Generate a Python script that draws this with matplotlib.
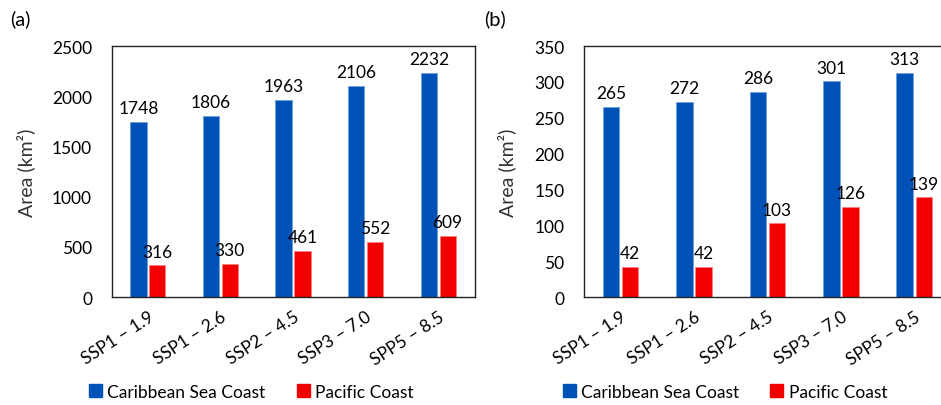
import numpy as np
import matplotlib
matplotlib.use("Agg")
import matplotlib.pyplot as plt
from matplotlib.patches import Patch

plt.rcParams['font.family'] = ['Lato', 'DejaVu Sans']

# scenarios and areas (km2)
scenarios = ["SSP1 – 1.9", "SSP1 – 2.6", "SSP2 – 4.5", "SSP3 – 7.0", "SPP5 – 8.5"]
carib_a = [1748, 1806, 1963, 2106, 2232]
pacif_a = [316, 330, 461, 552, 609]
carib_b = [265, 272, 286, 301, 313]
pacif_b = [42, 42, 103, 126, 139]

blue = "#0052B6"
red = "#F20000"
fs = 12.5

fig = plt.figure(figsize=(9.41, 4.06), dpi=100)

def panel(rect, carib, pacif, ymax, step, tag, tag_x, lab_x, leg_x):
    ax = fig.add_axes(rect)
    x = np.arange(len(scenarios))
    w = 0.225
    b1 = ax.bar(x - 0.13, carib, w, color=blue, edgecolor="#6f9fe0", linewidth=0.6)
    b2 = ax.bar(x + 0.13, pacif, w, color=red, edgecolor="#ff8080", linewidth=0.6)
    for bars in (b1, b2):
        ax.bar_label(bars, padding=4, fontsize=fs)
    ax.set_xlim(-0.5, len(scenarios) - 0.5)
    ax.set_ylim(0, ymax)
    ax.set_yticks(np.arange(0, ymax + 1, step))
    ax.set_xticks(x)
    ax.set_xticklabels(scenarios, rotation=33, ha="right", rotation_mode="anchor",
                       fontsize=fs)
    ax.tick_params(length=0, labelsize=fs)
    ax.tick_params(axis="y", pad=14)
    ax.tick_params(axis="x", pad=8)
    for s in ax.spines.values():
        s.set_linewidth(1.0)
        s.set_color("#222222")
    ax.set_ylabel("Area (km²)", fontsize=14, color="#333333")
    ax.yaxis.set_label_coords(lab_x, 0.5)
    fig.text(tag_x, 0.952, tag, fontsize=14.5, va="center")
    handles = [Patch(color=blue, label="Caribbean Sea Coast"),
               Patch(color=red, label="Pacific Coast")]
    ax.legend(handles=handles, loc="center", ncol=2, frameon=False,
              bbox_to_anchor=(leg_x, -0.378), bbox_transform=ax.transAxes,
              fontsize=fs, handlelength=0.75, handleheight=0.75,
              handletextpad=0.3, columnspacing=1.8)
    return ax

ax1 = panel([0.1185, 0.266, 0.3858, 0.618], carib_a, pacif_a, 2500, 500,
            "(a)", 0.011, -0.21, 0.385)
ax2 = panel([0.6206, 0.266, 0.39, 0.618], carib_b, pacif_b, 350, 50,
            "(b)", 0.514, -0.185, 0.384)

fig.savefig("out.png", dpi=100)
